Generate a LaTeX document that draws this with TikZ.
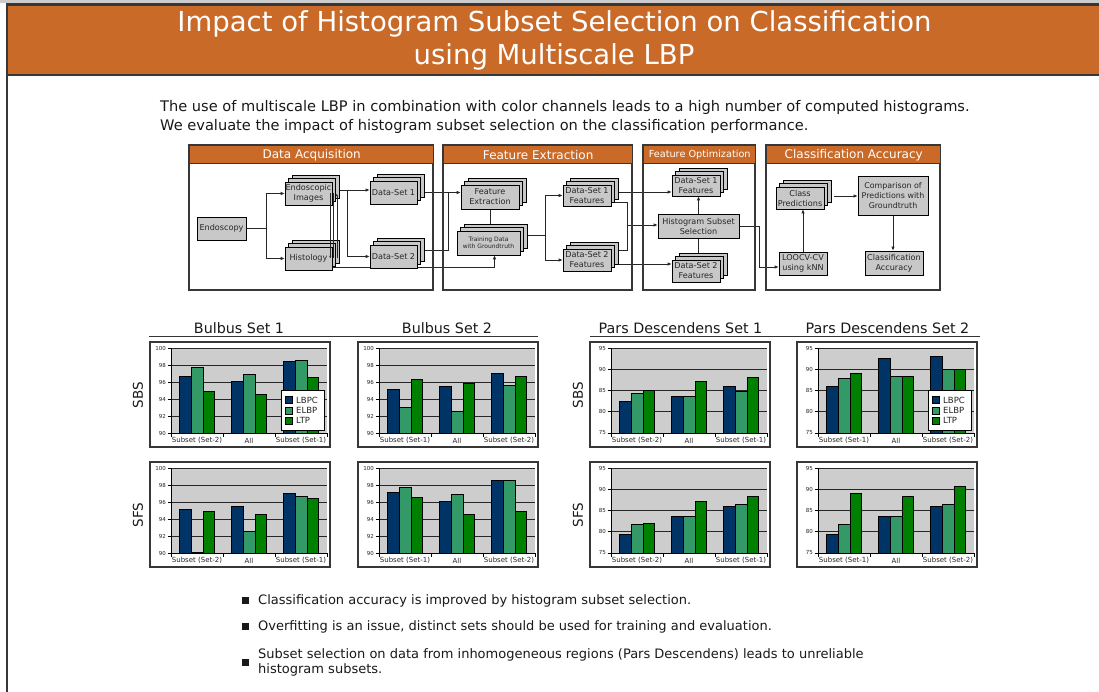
\documentclass[tikz,border=0pt]{standalone}
\usepackage{fontspec}
\setmainfont{DejaVu Sans}
\usetikzlibrary{shadows,arrows.meta,calc}
\pgfdeclarelayer{background}
\pgfdeclarelayer{canvas}
\pgfsetlayers{canvas,background,main}
\definecolor{hdr}{RGB}{201,106,40}
\definecolor{boxgray}{RGB}{200,200,200}
\definecolor{plotgray}{RGB}{205,205,205}
\definecolor{cA}{RGB}{0,51,102}
\definecolor{cB}{RGB}{51,153,102}
\definecolor{cC}{RGB}{0,128,0}
\definecolor{frm}{RGB}{55,55,55}
\newcommand{\fsz}[2]{\fontsize{#1}{#2}\selectfont}
\newcommand{\barchart}[8]{%
\begin{scope}[shift={(#1,#2)}]
  \fill[plotgray] (21,6) rectangle (177,91);
  \foreach \k in {0,...,#5}{%
    \pgfmathsetmacro\yy{91-85*\k/#5}%
    \pgfmathtruncatemacro\lab{#3+\k*(#4-#3)/#5}%
    \draw[gridline] (21,\yy) -- (177,\yy);
    \draw[axisline] (17.5,\yy) -- (21,\yy);
    \node[ticklab] at (16,\yy) {\lab};
  }
  \foreach \va/\vb/\vc [count=\g from 0] in {#6}{%
    \foreach \v/\col [count=\j from 0] in {\va/cA,\vb/cB,\vc/cC}{%
      \pgfmathsetmacro\bx{21+52*\g+8.5+11.67*\j}%
      \pgfmathsetmacro\by{91-85*(\v-#3)/(#4-#3)}%
      \draw[barline,fill=\col] (\bx,91) rectangle (\bx+11.67,\by);
    }
  }
  \foreach \lab [count=\g from 0] in {#7}{%
    \node[catlab] at (47+52*\g,98.5) {\lab};
  }
  \draw[axisline] (21,6) -- (21,91) -- (177,91);
  \foreach \g in {0,1,2,3} \draw[axisline] (21+52*\g,91) -- ++(0,3.5);
  \ifnum#8=1
    \draw[legframe] (131,48.5) rectangle (174.5,88);
    \foreach \nm/\col [count=\j from 0] in {LBPC/cA,ELBP/cB,LTP/cC}{%
      \draw[barline,fill=\col] (135,54.5+10.4*\j) rectangle ++(7,7);
      \node[leglab] at (146,58+10.4*\j) {\nm};
    }
  \fi
  \draw[chartframe] (0,0) rectangle (180,105);
\end{scope}}
\begin{document}
\begin{tikzpicture}[x=1pt,y=-1pt,
  box/.style={draw=black,fill=boxgray,line width=0.6pt,align=center,inner sep=0pt,text=black!85,font=\fsz{8.1}{10}},
  stackbox/.style={box,double copy shadow={shadow xshift=3.5pt,shadow yshift=3.5pt}},
  conn/.style={line width=0.7pt,draw=black!85},
  arr/.style={conn,-{Latex[length=4pt,width=3.4pt]}},
  arrs/.style={conn,line width=0.5pt,-{Latex[length=2.5pt,width=2.2pt]}},
  panelframe/.style={draw=frm,line width=1.4pt},
  hdrnode/.style={draw=frm,line width=1.4pt,fill=hdr,text=white,inner sep=0pt,anchor=north west,font=\fsz{12}{14}},
  gridline/.style={draw=black!85,line width=0.8pt},
  axisline/.style={draw=black,line width=0.7pt},
  barline/.style={draw=black,line width=0.6pt},
  chartframe/.style={draw=frm,line width=1.5pt},
  legframe/.style={draw=black,line width=0.7pt,fill=white},
  ticklab/.style={anchor=east,inner sep=0pt,font=\fsz{5.5}{6},text=black!85},
  catlab/.style={inner sep=0pt,font=\fsz{7}{8},text=black!85},
  leglab/.style={anchor=west,inner sep=0pt,font=\fsz{8.5}{9},text=black!85},
  charttitle/.style={anchor=base,font=\fsz{14.3}{16},text=black!90,inner sep=0pt},
  sidelab/.style={font=\fsz{13.5}{15},rotate=90,inner sep=0pt,text=black!90},
  titletext/.style={anchor=base,inner sep=0pt,font=\fsz{27.5}{33},text=white},
  bodytext/.style={anchor=base west,inner sep=0pt,font=\fsz{14.6}{19},text=black!90},
  bullettext/.style={anchor=base west,inner sep=0pt,font=\fsz{13}{15},text=black!90},
  bulletmark/.style={fill=black!90,minimum size=6.5pt,inner sep=0pt},
]
\useasboundingbox (0,0) rectangle (1099,692);
\begin{pgfonlayer}{canvas}
\fill[white] (0,0) rectangle (1099,692);
\end{pgfonlayer}
% page header
\fill[black!20] (0,0.5) rectangle (1099,3);
\fill[hdr] (7,4.5) rectangle (1099,75);
\draw[frm,line width=2.2pt] (1099,4.5) -- (7,4.5) -- (7,692);
\draw[frm,line width=2.2pt] (7,75) -- (1099,75);
\node[titletext] (t1) at (554.5,32) {Impact of Histogram Subset Selection on Classification};
\node[titletext] (t2) at (554,65) {using Multiscale LBP};
% intro
\node[bodytext] (b1) at (160,111.5) {The use of multiscale LBP in combination with color channels leads to a high number of computed histograms.};
\node[bodytext] (b2) at (160,130.5) {We evaluate the impact of histogram subset selection on the classification performance.};
% panels
\draw[panelframe] (189,145) rectangle (433,290);
\node[hdrnode,minimum width=244pt,minimum height=18pt] (h1) at (189,145) {Data Acquisition};
\draw[panelframe] (443,145) rectangle (632,290);
\node[hdrnode,minimum width=189pt,minimum height=18pt] (h2) at (443,145) {Feature Extraction};
\draw[panelframe] (643,145) rectangle (755,290);
\node[hdrnode,minimum width=112pt,minimum height=18pt,font=\fsz{9.7}{11}] (h3) at (643,145) {Feature Optimization};
\draw[panelframe] (766,145) rectangle (940,290);
\node[hdrnode,minimum width=174pt,minimum height=18pt] (h4) at (766,145) {Classification Accuracy};
% boxes
\node[box,minimum width=49pt,minimum height=23pt] (endo) at (221.5,228.5) {Endoscopy};
\node[stackbox,minimum width=47pt,minimum height=23pt] (eimg) at (308.5,193.5) {Endoscopic\\Images};
\node[stackbox,minimum width=47pt,minimum height=23pt] (hist) at (308.5,258.5) {Histology};
\node[stackbox,minimum width=47pt,minimum height=23pt] (ds1) at (393.5,192.5) {Data-Set 1};
\node[stackbox,minimum width=47pt,minimum height=23pt] (ds2) at (393.5,256.5) {Data-Set 2};
\node[stackbox,minimum width=58pt,minimum height=24pt] (fe) at (490,197) {Feature\\Extraction};
\node[stackbox,minimum width=63pt,minimum height=24pt,font=\fsz{6}{7.5}] (td) at (488.5,243) {Training Data\\with Groundtruth};
\node[stackbox,minimum width=48pt,minimum height=21pt] (ds1f) at (587,195.5) {Data-Set 1\\Features};
\node[stackbox,minimum width=48pt,minimum height=22pt] (ds2f) at (587,260) {Data-Set 2\\Features};
\node[stackbox,minimum width=48pt,minimum height=21pt] (ods1) at (696,185.5) {Data-Set 1\\Features};
\node[box,minimum width=81pt,minimum height=24pt] (hss) at (698.5,226) {Histogram Subset\\Selection};
\node[stackbox,minimum width=48pt,minimum height=22pt] (ods2) at (696,271) {Data-Set 2\\Features};
\node[stackbox,minimum width=48pt,minimum height=22pt] (cp) at (800,198) {Class\\Predictions};
\node[box,minimum width=70pt,minimum height=39pt,font=\fsz{7.9}{10}] (comp) at (893,195.5) {Comparison of\\Predictions with\\Groundtruth};
\node[box,minimum width=48pt,minimum height=23pt] (loo) at (803,263.5) {LOOCV-CV\\using kNN};
\node[box,minimum width=58pt,minimum height=24pt] (ca) at (894,263) {Classification\\Accuracy};
% helper coordinates
\coordinate (y190) at (0,190);
\coordinate (y192) at (0,192);
\coordinate (y202) at (0,202);
\coordinate (y235) at (0,235);
\coordinate (y250) at (0,250);
\coordinate (y264) at (0,264);
\coordinate (y267) at (0,267);
\coordinate (j1) at (266,228.5);
\coordinate (j2) at (347,190);
\coordinate (j3) at (448,192.5);
\coordinate (j4) at (545,235);
\coordinate (j5) at (627,225);
\coordinate (j6) at (759,226);
\coordinate (k1) at (834,196);
\begin{pgfonlayer}{background}
\draw[conn] (endo.east) -- (j1);
\draw[arr] (j1) |- (eimg.west);
\draw[arr] (j1) |- (hist.west);
\draw[arr] (eimg.east |- y190) -- (ds1.west |- y190);
\draw[arr] (j2) |- (ds2.west);
\draw[arr] (ds1.east) -- (fe.west |- ds1.east);
\draw[conn] (ds2.east |- y250) -| (j3);
\draw[arr] (hist.east |- y267) -| ([xshift=6pt]td.south);
\draw[arr] (fe.south) -- (fe.south |- td.north);
\draw[conn] (td.east |- y235) -- (j4);
\draw[arr] (j4) |- (ds1f.west);
\draw[arr] (j4) |- (ds2f.west);
\draw[arr] (ds1f.east |- y192) -- (ods1.west |- y192);
\draw[conn] (ds1f.east |- y202) -| (j5);
\draw[conn] (ds2f.east |- y250) -| (j5);
\draw[arr] (j5) -- (hss.west |- j5);
\draw[arr] (ds2f.east |- y264) -- (ods2.west |- y264);
\draw[arr] (hss.north) -- (hss.north |- ods1.south);
\draw[arr] (hss.south) -- (hss.south |- ods2.north);
\draw[conn] (hss.east) -- (j6);
\draw[arr] (j6) |- (loo.west |- y267);
\draw[arr] (loo.north) -- (loo.north |- cp.south);
\draw[arr] (k1) -- (comp.west |- k1);
\draw[arr] (comp.south) -- (comp.south |- ca.north);
\end{pgfonlayer}
\draw[arrs] ([xshift=-2pt]eimg.east) -- ([xshift=-2pt]hist.east);
\draw[conn,line width=0.5pt] ([xshift=1pt]eimg.east) -- ([xshift=1pt]hist.east);
\draw[arrs] ([xshift=4.5pt]hist.east) -- ([xshift=4.5pt]eimg.east);
% chart headings
\node[charttitle] (ct1) at (239,333) {Bulbus Set 1};
\node[charttitle] (ct2) at (447,333) {Bulbus Set 2};
\node[charttitle] (ct3) at (680.5,333) {Pars Descendens Set 1};
\node[charttitle] (ct4) at (887.5,333) {Pars Descendens Set 2};
\draw[black!80,line width=0.9pt] (149,336) -- (538,336);
\draw[black!80,line width=0.9pt] (590,336) -- (980,336);
\node[sidelab] (s1) at (138,395) {SBS};
\node[sidelab] (s2) at (138,515) {SFS};
\node[sidelab] (s3) at (578,395) {SBS};
\node[sidelab] (s4) at (578,515) {SFS};
% charts
\barchart{150}{342}{90}{100}{5}{96.7/97.7/94.9,96.1/96.9/94.5,98.4/98.5/96.5}{Subset (Set-2),All,Subset (Set-1)}{1}
\barchart{150}{462}{90}{100}{5}{95.2/90.1/94.9,95.5/92.6/94.5,97.0/96.7/96.4}{Subset (Set-2),All,Subset (Set-1)}{0}
\barchart{358}{342}{90}{100}{5}{95.2/93.0/96.3,95.5/92.6/95.9,97.0/95.6/96.7}{Subset (Set-1),All,Subset (Set-2)}{0}
\barchart{358}{462}{90}{100}{5}{97.1/97.7/96.5,96.1/96.9/94.5,98.5/98.5/94.9}{Subset (Set-1),All,Subset (Set-2)}{0}
\barchart{590}{342}{75}{95}{4}{82.4/84.4/85.1,83.7/83.7/87.1,86.1/84.8/88.2}{Subset (Set-2),All,Subset (Set-1)}{0}
\barchart{590}{462}{75}{95}{4}{79.4/81.8/82.0,83.7/83.7/87.1,86.1/86.4/88.4}{Subset (Set-2),All,Subset (Set-1)}{0}
\barchart{797}{342}{75}{95}{4}{86.1/87.8/89.0,92.5/88.4/88.4,93.0/90.1/90.1}{Subset (Set-1),All,Subset (Set-2)}{1}
\barchart{797}{462}{75}{95}{4}{79.4/81.8/89.0,83.7/83.7/88.4,86.1/86.4/90.7}{Subset (Set-1),All,Subset (Set-2)}{0}
% conclusions
\node[bulletmark] (m1) at (245.5,600.5) {};
\node[bullettext] (c1) at (258,604.5) {Classification accuracy is improved by histogram subset selection.};
\node[bulletmark] (m2) at (245.5,626.5) {};
\node[bullettext] (c2) at (258,630.5) {Overfitting is an issue, distinct sets should be used for training and evaluation.};
\node[bulletmark] (m3) at (245.5,662.5) {};
\node[bullettext] (c3) at (258,658.5) {Subset selection on data from inhomogeneous regions (Pars Descendens) leads to unreliable};
\node[bullettext] (c4) at (258,673.5) {histogram subsets.};
\end{tikzpicture}
\end{document}
